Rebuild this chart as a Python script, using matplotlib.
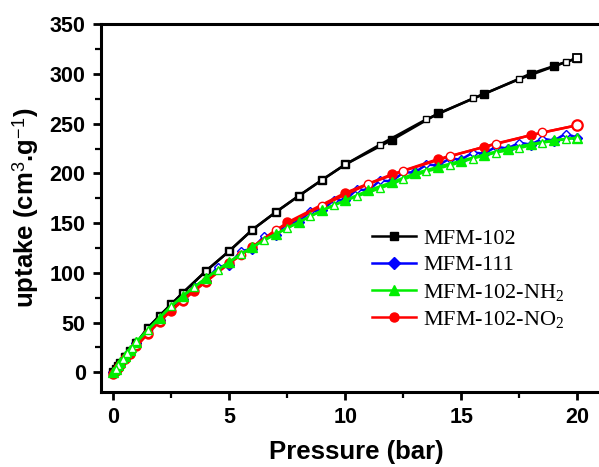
import matplotlib
matplotlib.use("Agg")
import matplotlib.pyplot as plt
from matplotlib.ticker import MultipleLocator
import numpy as np

plt.rcParams['mathtext.fontset'] = 'custom'
plt.rcParams['mathtext.rm'] = 'Liberation Serif'
plt.rcParams['mathtext.it'] = 'Liberation Serif:italic'
plt.rcParams['mathtext.sf'] = 'Liberation Sans'
plt.rcParams['mathtext.bf'] = 'Liberation Sans:bold'

# ---------------- data ----------------
# MFM-102 (black squares)
mfm102_ads_x = [0, 0.1, 0.2, 0.3, 0.5, 0.7, 1, 1.5, 2, 2.5, 3, 4, 5, 6, 7, 8, 9, 10, 12, 14, 16, 18, 19, 20]
mfm102_ads_y = [0, 3, 6, 9, 15, 21, 29, 45, 57, 68.5, 80, 102, 122, 143.5, 161, 177.5, 193.5, 209, 233.5, 260.3, 280, 300.4, 308, 316]
mfm102_des_x = [20, 19.5, 17.5, 15.5, 13.5, 11.5, 10, 9, 8, 7, 6, 5, 4, 3, 2.5, 2, 1.5, 1, 0.5, 0.2]
mfm102_des_y = [316, 312, 294.8, 275.4, 254.5, 229, 209, 193.5, 177.5, 161, 143.5, 122, 102, 80, 68.5, 57, 45, 30, 16, 6]

# MFM-111 (blue diamonds)
mfm111_ads_x = [0, 0.1, 0.2, 0.3, 0.5, 0.7, 1, 2, 3, 4, 5, 6, 7, 8, 9, 10, 11, 12, 13, 14, 15, 16, 17, 18, 19, 20]
mfm111_ads_y = [0, 2, 5, 8, 14, 20, 29, 53, 74, 92, 108, 124, 138, 151, 163, 173, 183, 192, 201, 208, 214, 220, 225, 229, 233, 236]
mfm111_des_x = [19.5, 18.5, 17.5, 16.5, 15.5, 14.5, 13.5, 12.5, 11.5, 10.5, 9.5, 8.5, 7.5, 6.5, 5.5, 4.5, 3.5, 2.5, 1.5, 0.5]
mfm111_des_y = [240, 235, 231, 227, 221, 215, 209, 201, 193, 184, 173, 162, 150, 137, 122, 106, 87, 65, 42, 15]

# MFM-102-NH2 (green triangles)
nh2_ads_x = [0, 0.1, 0.2, 0.3, 0.5, 0.7, 1, 2, 3, 4, 5, 6, 7, 8, 9, 10, 11, 12, 13, 14, 15, 16, 17, 18, 19, 20]
nh2_ads_y = [0, 3, 7, 10, 16, 22, 30, 55, 77, 95, 111, 126, 139, 151, 163, 173, 183, 191, 200, 206.6, 212.7, 219, 225, 229.4, 233.5, 236]
nh2_des_x = [20, 19.5, 18.5, 17.5, 16.5, 15.5, 14.5, 13.5, 12.5, 11.5, 10.5, 9.5, 8.5, 7.5, 6.5, 5.5, 4.5, 3.5, 2.5, 1.5, 1.0, 0.8, 0.6, 0.4, 0.2, 0.1]
nh2_des_y = [236, 234.4, 231, 225.5, 221, 215, 208, 202, 194, 185, 177, 168, 157, 145, 133, 119, 103, 86, 67, 43, 31, 24, 19, 13, 7, 3]

# MFM-102-NO2 (red circles)
no2_ads_x = [0, 0.1, 0.2, 0.3, 0.5, 0.7, 1, 1.5, 2, 2.5, 3, 3.5, 4, 5, 6, 7.5, 10, 12, 14, 16, 18, 20]
no2_ads_y = [-2, 1, 4, 7, 13, 18, 26, 39, 51, 62, 72, 82, 91, 110, 126, 150.7, 180.5, 199, 214.4, 226.7, 238.5, 248.5]
no2_des_x = [20, 18.5, 16.5, 14.5, 12.5, 11, 9, 7, 5.5, 4, 3, 2, 1.5, 1, 0.5, 0.2]
no2_des_y = [248.5, 241.2, 230.1, 217.1, 202.5, 189.5, 167.5, 143, 118, 92, 73, 52, 40, 27, 14, 4]

labels = ['MFM-102', 'MFM-111', 'MFM-102-NH$_2$', 'MFM-102-NO$_2$']

# ---------------- figure ----------------
fig = plt.figure(figsize=(5.99, 4.67), dpi=100)
ax = fig.add_axes([101/599, (467-391.7)/467, 511/599, (391.7-24.3)/467])

ms_a = 6
ms_d = 4.5
lw = 1.8
green = '#00ee00'

# black
ax.plot(mfm102_ads_x, mfm102_ads_y, '-', color='black', lw=lw, marker='s', ms=ms_a,
        mfc='black', mec='black', label=labels[0], zorder=3)
ax.plot(mfm102_des_x, mfm102_des_y, '-', color='black', lw=lw, marker='s', ms=ms_d,
        mfc='white', mec='black', mew=1.0, zorder=3)
ax.plot(mfm102_des_x[:1], mfm102_des_y[:1], 's', ms=ms_a, mfc='white', mec='black', mew=1.3, zorder=3)

# blue: single zigzag line through ads and des
bx = np.array(mfm111_ads_x + mfm111_des_x)
by = np.array(mfm111_ads_y + mfm111_des_y)
order = np.argsort(bx)
ax.plot(bx[order], by[order], '-', color='blue', lw=lw, zorder=2)
ax.plot(mfm111_ads_x, mfm111_ads_y, 'D', ms=ms_a - 0.5, mfc='blue', mec='blue', zorder=2)
ax.plot(mfm111_des_x, mfm111_des_y, 'D', ms=ms_d - 0.5, mfc='white', mec='blue', mew=1.0, zorder=2)
ax.plot([], [], '-', color='blue', lw=lw, marker='D', ms=ms_a, mfc='blue', mec='blue', label=labels[1])

# green
ax.plot(nh2_ads_x, nh2_ads_y, '-', color=green, lw=lw, marker='^', ms=ms_a + 0.5,
        mfc=green, mec=green, label=labels[2], zorder=4)
ax.plot(nh2_des_x, nh2_des_y, '-', color=green, lw=lw, marker='^', ms=ms_a,
        mfc='white', mec=green, mew=1.0, zorder=4)

# red
ax.plot(no2_ads_x, no2_ads_y, '-', color='red', lw=lw, marker='o', ms=ms_a + 0.5,
        mfc='red', mec='red', label=labels[3], zorder=3)
ax.plot(no2_des_x, no2_des_y, '-', color='red', lw=lw, marker='o', ms=ms_a,
        mfc='white', mec='red', mew=1.0, zorder=3)
ax.plot(no2_des_x[:1], no2_des_y[:1], 'o', ms=ms_a + 1.5, mfc='white', mec='red', mew=1.6, zorder=3)

# axes
ax.set_xlim(-0.53, 21.5)
ax.set_ylim(-19.5, 350)
ax.xaxis.set_major_locator(MultipleLocator(5))
ax.xaxis.set_minor_locator(MultipleLocator(2.5))
ax.yaxis.set_major_locator(MultipleLocator(50))
ax.yaxis.set_minor_locator(MultipleLocator(25))
for s in ax.spines.values():
    s.set_linewidth(2.2)
ax.tick_params(which='major', direction='out', length=6, width=2, pad=5,
               labelsize=15.5, top=False, right=False)
ax.tick_params(which='minor', direction='out', length=4, width=1.6, top=False, right=False)
for t in ax.get_xticklabels() + ax.get_yticklabels():
    t.set_fontfamily('Liberation Sans')
    t.set_fontweight('bold')

ax.set_xlabel('Pressure (bar)', fontsize=18.5, fontweight='bold', family='Liberation Sans', labelpad=9)
ax.set_ylabel(r'uptake (cm$^\mathsf{3}$.g$^\mathsf{-1}$)', fontsize=18.5, fontweight='bold',
              family='Liberation Sans', labelpad=6)

leg = ax.legend(loc='upper left', bbox_to_anchor=(372/599, (467-228)/467),
                bbox_transform=fig.transFigure, frameon=False,
                prop={'family': 'Liberation Serif', 'size': 16},
                handlelength=2.0, handletextpad=0.3, labelspacing=0.28, borderpad=0, borderaxespad=0)

fig.savefig('out.png', dpi=100)
